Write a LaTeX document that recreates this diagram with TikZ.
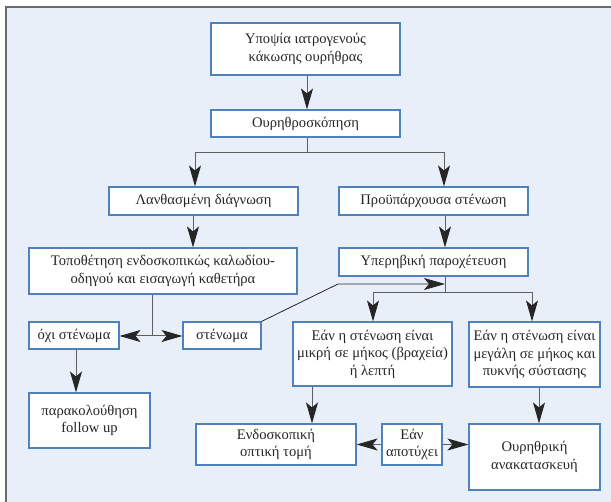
\documentclass[tikz,border=0pt]{standalone}
\usepackage{fontspec}
\setmainfont{Liberation Serif}
\usetikzlibrary{arrows.meta}

\definecolor{panel}{HTML}{E8EFF8}
\definecolor{framecol}{HTML}{6A6A6A}
\definecolor{boxline}{HTML}{4F81BD}
\definecolor{wirecol}{HTML}{5F5F5F}
\definecolor{ink}{HTML}{262626}

\tikzset{
  box/.style={draw=boxline, line width=1.1pt, fill=white, align=center,
    inner sep=0pt, text=ink, font=\fontsize{14.6}{17.5}\selectfont},
  wire/.style={draw=wirecol, line width=1pt},
  arr/.style={wire, -{Stealth[length=21pt, width=12pt, inset=5pt, color=ink]}},
  thinarr/.style={draw=ink, line width=0.8pt, -{Stealth[length=21pt, width=12pt, inset=5pt, color=ink]}},
}

\begin{document}
\begin{tikzpicture}[x=1pt, y=-1pt]
  \useasboundingbox (0,0) rectangle (611,502);
  % background panel with its left and top rule
  \fill[panel] (6,7) rectangle (611,502);
  \draw[framecol, line width=1.2pt] (6,502) -- (6,7) -- (611,7);

  % boxes
  \node[box, minimum width=189pt, minimum height=52pt] (b1) at (305.5,49)
    {Υποψία ιατρογενούς\\κάκωσης ουρήθρας};
  \node[box, minimum width=189pt, minimum height=27pt] (b2) at (305.5,123.5)
    {Ουρηθροσκόπηση};
  \node[box, minimum width=189pt, minimum height=28pt] (b3) at (203.5,201)
    {Λανθασμένη διάγνωση};
  \node[box, minimum width=189pt, minimum height=28pt] (b4) at (433.5,201)
    {Προϋπάρχουσα στένωση};
  \node[box, minimum width=268pt, minimum height=46pt] (b5) at (163,271)
    {Τοποθέτηση ενδοσκοπικώς καλωδίου-\\οδηγού και εισαγωγή καθετήρα};
  \node[box, minimum width=189pt, minimum height=28pt] (b6) at (433.5,262)
    {Υπερηβική παροχέτευση};
  \node[box, minimum width=90pt, minimum height=27pt] (b7) at (74,335.5)
    {όχι στένωμα};
  \node[box, minimum width=78pt, minimum height=27pt] (b8) at (222,335.5)
    {στένωμα};
  \node[box, minimum width=159pt, minimum height=64pt] (b9) at (372.5,354)
    {Εάν η στένωση είναι\\μικρή σε μήκος (βραχεία)\\ή λεπτή};
  \node[box, minimum width=131pt, minimum height=65pt] (b10) at (534.5,354.5)
    {Εάν η στένωση είναι\\μεγάλη σε μήκος και\\πυκνής σύστασης};
  \node[box, minimum width=121pt, minimum height=55pt] (b11) at (89.5,420.5)
    {παρακολούθηση\\follow up};
  \node[box, minimum width=160pt, minimum height=41pt] (b12) at (276,444.5)
    {Ενδοσκοπική\\οπτική τομή};
  \node[box, minimum width=60pt, minimum height=41pt] (b13) at (412,444.5)
    {Εάν\\αποτύχει};
  \node[box, minimum width=131pt, minimum height=66pt] (b14) at (534.5,457)
    {Ουρηθρική\\ανακατασκευή};

  % junctions and connector columns
  \coordinate (j1) at (307,153);
  \coordinate (l1) at (195,153);
  \coordinate (r1) at (444,153);
  \coordinate (c3) at (193,0);
  \coordinate (c4) at (445,0);
  \coordinate (j2) at (152,336);
  \coordinate (j3) at (445,293);
  \coordinate (l3) at (373,293);
  \coordinate (r3) at (532,293);
  \coordinate (k)  at (338,284);
  \coordinate (c7) at (76,0);
  \coordinate (c9) at (312,0);
  \coordinate (c10) at (539,0);

  % connectors
  \draw[arr] (b1.south -| j1) -- (b2.north -| j1);
  \draw[wire] (b2.south -| j1) -- (j1);
  \draw[arr] (j1) -| (l1 |- b3.north);
  \draw[arr] (j1) -| (r1 |- b4.north);
  \draw[arr] (c3 |- b3.south) -- (c3 |- b5.north);
  \draw[arr] (c4 |- b4.south) -- (c4 |- b6.north);

  \draw[wire] (j2 |- b5.south) -- (j2);
  \draw[arr] (j2) -- (b7.east |- j2);
  \draw[arr] (j2) -- (b8.west |- j2);

  \draw[thinarr] (b8.north east) -- (k) -- (j3 |- k);

  \draw[wire] (j3 |- b6.south) -- (j3);
  \draw[arr] (j3) -| (l3 |- b9.north);
  \draw[arr] (j3) -| (r3 |- b10.north);

  \draw[arr] (c7 |- b7.south) -- (c7 |- b11.north);
  \draw[arr] (c9 |- b9.south) -- (c9 |- b12.north);
  \draw[arr] (c10 |- b10.south) -- (c10 |- b14.north);
  \draw[arr] (b13.west) -- (b12.east);
  \draw[arr] (b13.east) -- (b13.east -| b14.west);
\end{tikzpicture}
\end{document}
